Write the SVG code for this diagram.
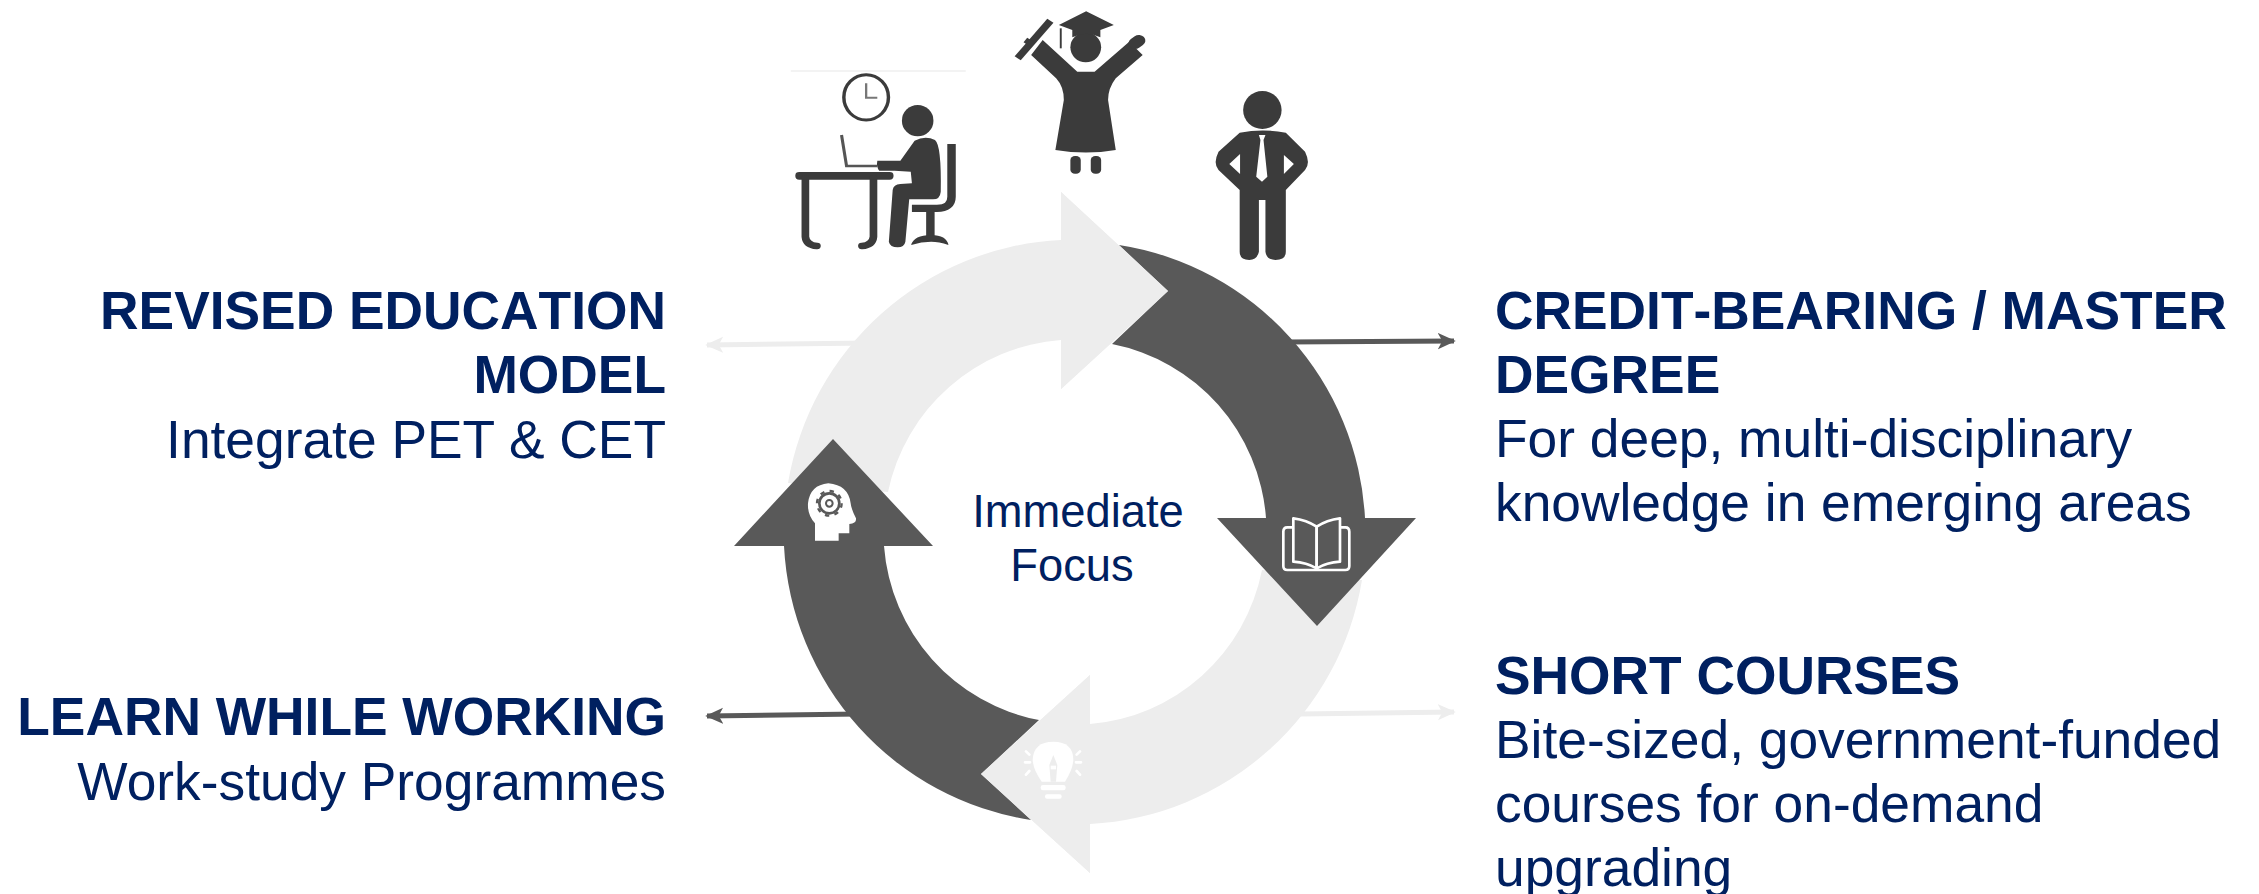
<svg xmlns="http://www.w3.org/2000/svg" width="2259" height="894" viewBox="0 0 2259 894">
<style>
.t{font-family:"Liberation Sans",Arial,sans-serif;font-size:53.33px;fill:#002060}
.b{font-weight:700;font-kerning:none}
.e{text-anchor:end}
.c{font-size:45.33px;text-anchor:middle}
.dark{fill:#595959}
.light{fill:#ededed}
.ink{fill:#3b3b3b}
.ln{fill:none;stroke-width:5}
</style>
<defs>
<marker id="ad" viewBox="0 0 20 20" refX="18" refY="10" markerWidth="18" markerHeight="18" markerUnits="userSpaceOnUse" orient="auto-start-reverse"><path d="M0,1 L20,10 L0,19 L5,10Z" fill="#595959"/></marker>
<marker id="al" viewBox="0 0 20 20" refX="18" refY="10" markerWidth="18" markerHeight="18" markerUnits="userSpaceOnUse" orient="auto-start-reverse"><path d="M0,1 L20,10 L0,19 L5,10Z" fill="#ededed"/></marker>
</defs>
<g id="connectors">
<line class="ln" x1="1285" y1="342" x2="1454" y2="341" stroke="#595959" marker-end="url(#ad)"/>
<line class="ln" x1="870" y1="343" x2="707" y2="345" stroke="#ededed" marker-end="url(#al)"/>
<line class="ln" x1="860" y1="714" x2="707" y2="716" stroke="#595959" marker-end="url(#ad)"/>
<line class="ln" x1="1300" y1="714" x2="1454" y2="712" stroke="#ededed" marker-end="url(#al)"/>
</g>
<g id="cycle-top-left">
<path class="light" d="M788,483 A291,292 0 0 1 1061,240 V192 L1168,291 L1061,389 V340 A191,192 0 0 0 888,492Z"/>
</g>
<g id="cycle-bottom-right">
<path class="light" d="M1362,580 A291,292 0 0 1 1090,824 V873 L981,774 L1090,675 V724 A191,192 0 0 0 1262,570Z"/>
</g>
<g id="cycle-top-right">
<path class="dark" d="M1119,245 A291,292 0 0 1 1365,518 H1416 L1317,626 L1217,518 H1266 A191,192 0 0 0 1112,344 L1168,291Z"/>
</g>
<g id="cycle-bottom-left">
<path class="dark" d="M1031,820 A291,292 0 0 1 784,546 H734 L833,439 L933,546 H884 A191,192 0 0 0 1039,720 L981,774Z"/>
</g>
<g id="cycle-top-tip">
<path class="light" d="M1061,240 V192 L1168,291 L1061,389 V340Z"/>
</g>
<g id="cycle-bottom-tip">
<path class="light" d="M1090,824 V873 L981,774 L1090,675 V724Z"/>
</g>
<g id="icon-book" transform="translate(1260,500) scale(.3333)" fill="none" stroke="#fff" stroke-width="8" stroke-linejoin="round">
<path d="M100,55 V185 Q140,188 170,205 V80 Q140,60 100,55Z"/>
<path d="M240,55 V185 Q200,188 170,205 V80 Q200,60 240,55Z"/>
<path d="M97,82 H82 Q70,82 70,95 V198 Q70,210 82,210 H256 Q268,210 268,198 V95 Q268,82 256,82 H242"/>
</g>
<g id="icon-head" transform="translate(720,420) scale(.3333)">
<path fill="#fff" d="M285,362 V310 Q262,285 264,250 Q270,195 325,190 Q385,195 392,250 Q393,265 408,295 Q410,310 388,312 V340 H356 V362Z"/>
<circle cx="328" cy="250" r="30" fill="none" stroke="#595959" stroke-width="8"/>
<circle cx="328" cy="250" r="37" fill="none" stroke="#595959" stroke-width="7" stroke-dasharray="13 16"/>
<circle cx="328" cy="250" r="10" fill="none" stroke="#595959" stroke-width="6"/>
</g>
<g id="icon-bulb" transform="translate(1000,700) scale(.3333)">
<path fill="#fff" d="M160,125 Q220,125 220,180 Q218,210 195,245 H125 Q100,210 98,180 Q100,125 160,125Z"/>
<path fill="#ededed" d="M160,165 L172,195 L168,245 H152 L148,195Z"/>
<path fill="#fff" d="M152,197 H168 V208 H152Z"/>
<rect x="122" y="255" width="75" height="16" rx="7" fill="#fff"/>
<rect x="135" y="283" width="50" height="13" rx="6" fill="#fff"/>
<path fill="none" stroke="#fff" stroke-width="8" stroke-linecap="round" d="M78,154 L88,164 M75,187 H90 M78,224 L88,213 M240,154 L230,164 M243,187 H228 M240,224 L230,213"/>
</g>
<g id="icon-desk-worker" transform="translate(760,0) scale(.3846,.3333)">
<line x1="80" y1="213" x2="535" y2="213" stroke="#e8e8e8" stroke-width="3"/>
<ellipse cx="276" cy="292" rx="58" ry="68" fill="#fff" stroke="#3b3b3b" stroke-width="9"/>
<path d="M276,250 V293 H305" fill="none" stroke="#777" stroke-width="6"/>
<ellipse cx="410" cy="362" rx="41" ry="47" class="ink"/>
<path d="M212,405 L225,498 H305" fill="none" stroke="#555" stroke-width="8"/>
<path class="ink" d="M305,482 H365 L402,422 Q430,405 455,420 Q472,435 470,575 Q468,598 450,598 H388 L378,725 Q375,742 358,742 Q338,742 335,725 L345,570 Q347,553 365,552 L395,550 L392,515 L350,512 H310 Q302,500 305,482Z"/>
<rect x="92" y="516" width="255" height="23" rx="10" class="ink"/>
<path d="M118,535 V710 Q120,735 148,738 M295,535 V710 Q293,735 265,738" fill="none" stroke="#3b3b3b" stroke-width="20" stroke-linecap="round"/>
<path d="M498,432 V590 Q498,625 460,625 H395" fill="none" stroke="#3b3b3b" stroke-width="22"/>
<rect x="432" y="630" width="22" height="80" class="ink"/>
<path class="ink" d="M393,735 Q400,705 445,705 Q485,705 490,735 Q465,725 445,725 Q420,725 393,735Z"/>
</g>
<g id="icon-graduate" transform="translate(760,0) scale(.3846,.3333)">
<ellipse cx="847" cy="142" rx="40" ry="45" class="ink"/>
<path class="ink" d="M777,75 L848,34 L920,75 L885,90 V112 Q848,90 812,112 V90Z"/>
<line x1="782" y1="85" x2="782" y2="145" stroke="#3b3b3b" stroke-width="5"/>
<path class="ink" d="M735,120 L825,215 H870 L960,125 L995,165 L925,235 Q905,265 905,300 L925,450 Q848,465 768,450 L790,300 Q790,260 770,235 L705,165Z"/>
<line x1="985" y1="122" x2="975" y2="130" stroke="#3b3b3b" stroke-width="34" stroke-linecap="round"/>
<line x1="670" y1="175" x2="755" y2="62" stroke="#3b3b3b" stroke-width="20"/>
<line x1="690" y1="120" x2="710" y2="135" stroke="#3b3b3b" stroke-width="16"/>
<rect x="807" y="468" width="27" height="53" rx="12" class="ink"/>
<rect x="860" y="468" width="27" height="53" rx="12" class="ink"/>
</g>
<g id="icon-man" transform="translate(757,0) scale(.3846,.3333)">
<ellipse cx="1314" cy="330" rx="50" ry="57" class="ink"/>
<path class="ink" d="M1255,398 Q1315,385 1375,398 L1425,455 Q1440,490 1425,510 L1375,570 V755 Q1375,780 1348,780 Q1325,780 1322,755 V600 H1305 V755 Q1300,780 1280,780 Q1255,780 1255,755 V570 L1200,510 Q1185,490 1200,455Z"/>
<path fill="#fff" d="M1228,492 L1256,462 V522Z M1370,465 L1396,492 L1370,522Z"/>
<path fill="#fff" d="M1305,405 H1322 L1317,420 L1327,530 L1313,545 L1298,530 L1309,420Z"/>
</g>
<g id="label-immediate">
<text class="t c" x="1078" y="527">Immediate</text>
<text class="t c" x="1072" y="581">Focus</text>
</g>
<g id="label-revised">
<text class="t b e" x="666" y="329">REVISED EDUCATION</text>
<text class="t b e" x="666" y="393">MODEL</text>
<text class="t e" x="666" y="458">Integrate PET &amp; CET</text>
</g>
<g id="label-learn">
<text class="t b e" x="666" y="735">LEARN WHILE WORKING</text>
<text class="t e" x="666" y="800">Work-study Programmes</text>
</g>
<g id="label-credit">
<text class="t b" x="1495" y="329">CREDIT-BEARING / MASTER</text>
<text class="t b" x="1495" y="393">DEGREE</text>
<text class="t" x="1495" y="457">For deep, multi-disciplinary</text>
<text class="t" x="1495" y="521">knowledge in emerging areas</text>
</g>
<g id="label-short">
<text class="t b" x="1495" y="694">SHORT COURSES</text>
<text class="t" x="1495" y="758">Bite-sized, government-funded</text>
<text class="t" x="1495" y="822">courses for on-demand</text>
<text class="t" x="1495" y="886">upgrading</text>
</g>
</svg>
